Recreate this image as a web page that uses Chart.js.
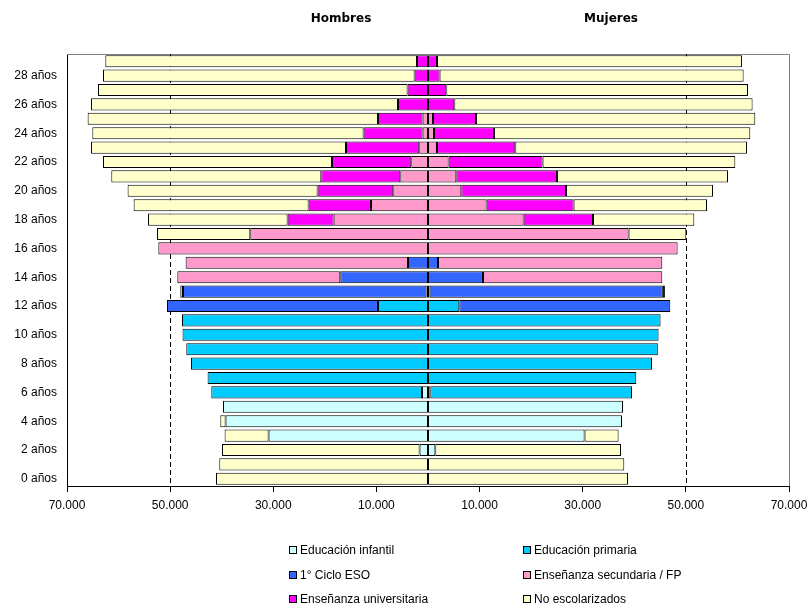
<!DOCTYPE html>
<html>
<head>
<meta charset="utf-8">
<script src="https://cdn.jsdelivr.net/npm/chart.js@4"></script>
<style>
  body { margin: 0; background: #fff; font-family: 'Liberation Sans', Arial, sans-serif; }
  #wrap { position: relative; width: 809px; height: 607px; }
  canvas { position: absolute; left: 0; top: 0; }
  .title { position: absolute; top: 11px; font: bold 12px 'DejaVu Sans', Verdana, sans-serif; color: #000; transform: translateX(-50%); }
  .leg { position: absolute; font-size: 12px; line-height: 14px; color: #000; display: flex; align-items: center; white-space: nowrap; }
  .leg .box { width: 6px; height: 6px; border: 1px solid #000; margin-right: 3px; }
</style>
</head>
<body>
<div id="wrap">
  <canvas id="pyramid" width="809" height="607"></canvas>
  <div class="title" style="left:341px">Hombres</div>
  <div class="title" style="left:611px">Mujeres</div>
  <div id="legend"></div>
</div>
<script>
const ages = [0, 1, 2, 3, 4, 5, 6, 7, 8, 9, 10, 11, 12, 13, 14, 15, 16, 17, 18, 19, 20, 21, 22, 23, 24, 25, 26, 27, 28, 29];
const levels = ['Educación infantil', 'Educación primaria', '1° Ciclo ESO', 'Enseñanza secundaria / FP', 'Enseñanza universitaria', 'No escolarizados'];
const colors = ['#CCFFFF', '#00CCFF', '#3366FF', '#FF99CC', '#FF00FF', '#FFFFCC'];
const xTicks = [-70000, -50000, -30000, -10000, 10000, 30000, 50000, 70000];
const refLines = [-50000, 50000];

// hombres, por edad 0..29
const menInfantil = [0, 0, 1630, 30910, 39250, 39750, 1160, 0, 0, 0, 0, 0, 0, 0, 0, 0, 0, 0, 0, 0, 0, 0, 0, 0, 0, 0, 0, 0, 0, 0];
const menPrimaria = [0, 0, 0, 0, 0, 0, 40860, 42740, 45950, 46870, 47600, 47700, 9700, 300, 0, 0, 0, 0, 0, 0, 0, 0, 0, 0, 0, 0, 0, 0, 0, 0];
const menESO = [0, 0, 0, 0, 0, 0, 0, 0, 0, 0, 0, 0, 40910, 47210, 17010, 3880, 0, 0, 0, 0, 0, 0, 0, 0, 0, 0, 0, 0, 0, 0];
const menSecundaria = [0, 0, 0, 0, 0, 0, 0, 0, 0, 0, 0, 0, 0, 520, 31600, 43120, 52290, 34460, 18300, 11050, 6730, 5370, 3240, 1690, 1050, 1050, 0, 0, 0, 0];
const menUniversitaria = [0, 0, 0, 0, 0, 0, 0, 0, 0, 0, 0, 0, 0, 0, 0, 0, 0, 0, 8920, 12100, 14680, 15320, 15380, 14210, 11440, 8650, 5820, 3960, 2600, 2130];
const menNoEsc = [41110, 40470, 38310, 8530, 1020, 0, 0, 0, 0, 0, 0, 0, 0, 0, 0, 0, 0, 18090, 27070, 33930, 36840, 40720, 44400, 49440, 52600, 56300, 59520, 60030, 60420, 60440];

// mujeres, por edad 0..29
const womenInfantil = [0, 0, 1420, 30360, 37620, 37810, 450, 0, 0, 0, 0, 0, 0, 0, 0, 0, 0, 0, 0, 0, 0, 0, 0, 0, 0, 0, 0, 0, 0, 0];
const womenPrimaria = [0, 0, 0, 0, 0, 0, 39110, 40390, 43430, 44560, 44710, 45100, 6070, 300, 0, 0, 0, 0, 0, 0, 0, 0, 0, 0, 0, 0, 0, 0, 0, 0];
const womenESO = [0, 0, 0, 0, 0, 0, 0, 0, 0, 0, 0, 0, 40910, 45240, 10660, 1940, 0, 0, 0, 0, 0, 0, 0, 0, 0, 0, 0, 0, 0, 0];
const womenSecundaria = [0, 0, 0, 0, 0, 0, 0, 0, 0, 0, 0, 0, 0, 400, 34770, 43490, 48400, 38900, 18540, 11360, 6460, 5490, 3990, 1750, 1160, 970, 0, 0, 0, 0];
const womenUniversitaria = [0, 0, 0, 0, 0, 0, 0, 0, 0, 0, 0, 0, 0, 0, 0, 0, 0, 0, 13460, 16870, 20300, 19530, 18230, 15180, 11630, 8340, 5100, 3550, 2250, 1740];
const womenNoEsc = [38780, 38060, 36000, 6600, 0, 0, 0, 0, 0, 0, 0, 0, 0, 0, 0, 0, 0, 11180, 19640, 25870, 28500, 33150, 37370, 44920, 49700, 54150, 57840, 58500, 58950, 59140];

const menSeries = [menInfantil, menPrimaria, menESO, menSecundaria, menUniversitaria, menNoEsc];
const womenSeries = [womenInfantil, womenPrimaria, womenESO, womenSecundaria, womenUniversitaria, womenNoEsc];

function fmt(v) {
  return String(Math.abs(v)).replace(/\B(?=(\d{3})+(?!\d))/g, '.');
}

const datasets = [];
levels.forEach((name, i) => {
  datasets.push({ label: name, data: menSeries[i].map(v => -v), backgroundColor: colors[i], borderColor: '#000', borderWidth: 1, borderSkipped: false, barPercentage: 0.84, categoryPercentage: 1 });
  datasets.push({ label: name, data: womenSeries[i], backgroundColor: colors[i], borderColor: '#000', borderWidth: 1, borderSkipped: false, barPercentage: 0.84, categoryPercentage: 1 });
});

// marco gris y lineas discontinuas al 50.000 (detras de las barras)
const framePlugin = {
  id: 'frame',
  beforeDatasetsDraw(chart) {
    const { ctx, chartArea: a, scales } = chart;
    ctx.save();
    ctx.strokeStyle = '#808080';
    ctx.lineWidth = 1;
    ctx.beginPath();
    ctx.moveTo(a.left, a.top + 0.5);
    ctx.lineTo(a.right + 0.5, a.top + 0.5);
    ctx.lineTo(a.right + 0.5, a.bottom);
    ctx.stroke();
    ctx.strokeStyle = '#000';
    ctx.setLineDash([5, 3]);
    refLines.forEach(v => {
      const x = Math.round(scales.x.getPixelForValue(v)) + 0.5;
      ctx.beginPath();
      ctx.moveTo(x, a.top);
      ctx.lineTo(x, a.bottom);
      ctx.stroke();
    });
    ctx.restore();
  }
};

const tickFont = { family: "'Liberation Sans', Arial, sans-serif", size: 12 };

new Chart(document.getElementById('pyramid').getContext('2d'), {
  type: 'bar',
  data: { labels: ages.map(a => a + ' años'), datasets: datasets },
  options: {
    indexAxis: 'y',
    responsive: false,
    animation: false,
    layout: { padding: { top: 54, right: 20, bottom: 91, left: 0 } },
    plugins: { legend: { display: false }, tooltip: { enabled: false } },
    scales: {
      x: {
        stacked: true,
        min: -70000,
        max: 70000,
        afterFit: s => { s.height = 30; s.paddingLeft = 0; s.paddingRight = 0; },
        afterBuildTicks: s => { s.ticks = xTicks.map(v => ({ value: v })); },
        ticks: { callback: v => fmt(v), color: '#000', font: tickFont, padding: 6, maxRotation: 0, autoSkip: false },
        grid: { drawOnChartArea: false, drawTicks: true, tickLength: 6, tickColor: '#000' },
        border: { color: '#000', width: 1 }
      },
      y: {
        stacked: true,
        reverse: true,
        afterFit: s => { s.width = 67; s.paddingTop = 0; s.paddingBottom = 0; },
        ticks: { autoSkip: false, color: '#000', font: tickFont, padding: 10, callback: (v, i) => i % 2 === 0 ? ages[i] + ' años' : '' },
        grid: { drawOnChartArea: false, drawTicks: false },
        border: { color: '#000', width: 1 }
      }
    }
  },
  plugins: [framePlugin]
});

// leyenda en dos columnas
const legend = document.getElementById('legend');
const legCols = [289, 523];
const legRows = [550, 575, 599];
levels.forEach((name, i) => {
  const item = document.createElement('div');
  item.className = 'leg';
  item.style.left = legCols[i % 2] + 'px';
  item.style.top = (legRows[Math.floor(i / 2)] - 7) + 'px';
  item.innerHTML = '<span class="box" style="background:' + colors[i] + '"></span>' + name;
  legend.appendChild(item);
});
</script>
</body>
</html>
